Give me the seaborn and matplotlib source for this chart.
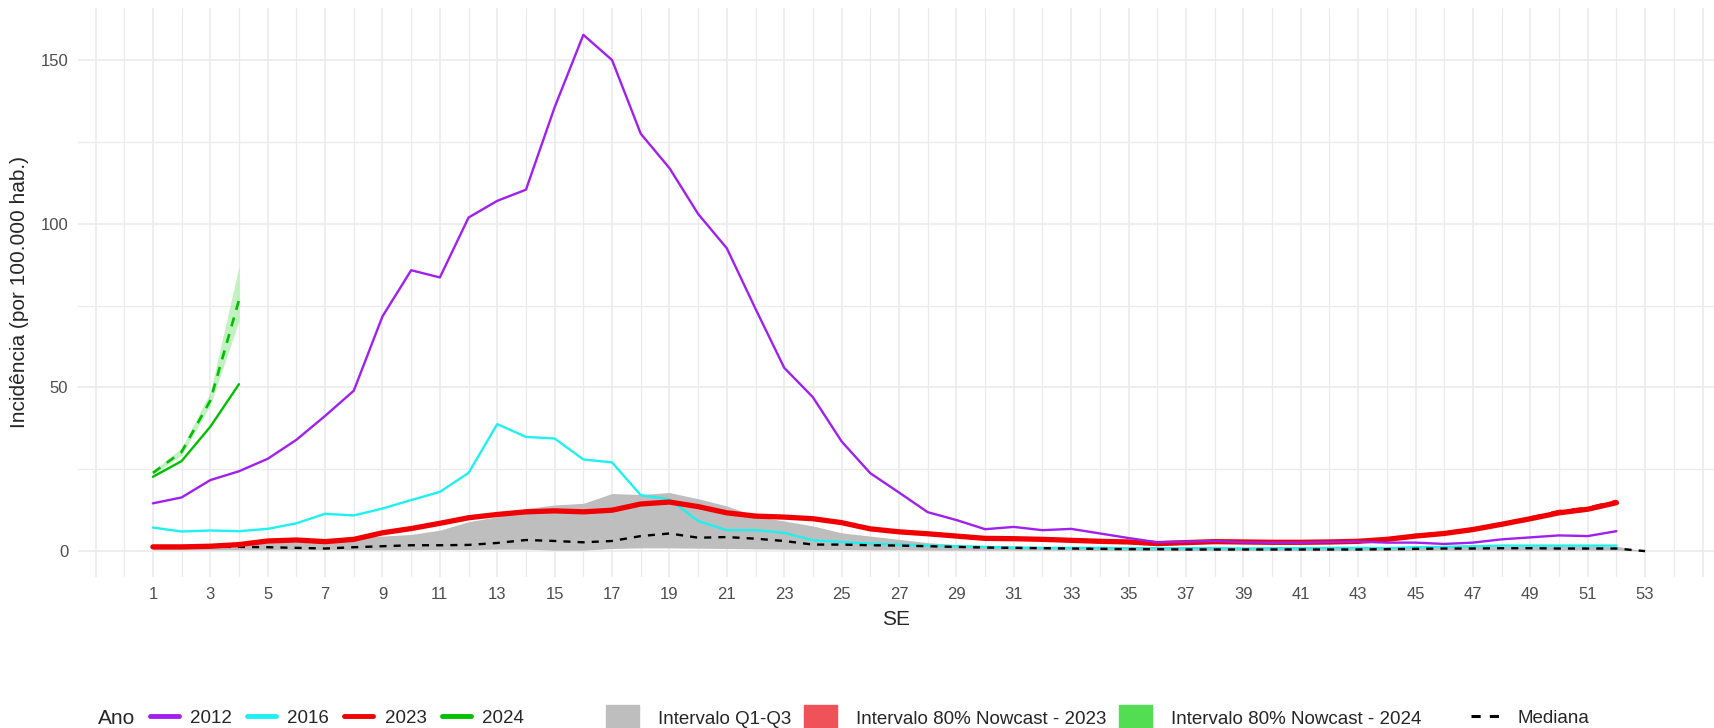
import numpy as np
import pandas as pd
import matplotlib
matplotlib.use('Agg')
import matplotlib.pyplot as plt
from matplotlib.lines import Line2D
from matplotlib.patches import Patch
import seaborn as sns

# semanas epidemiologicas
weeks = list(range(1, 53))
weeks_med = list(range(1, 54))
weeks_2024 = [1, 2, 3, 4]
weeks_now23 = [44, 45, 46, 47, 48, 49, 50, 51, 52]

inc_2012 = [14.6, 16.4, 21.7, 24.4, 28.2, 34.0, 41.3, 49.0, 71.7, 85.8, 83.6, 101.9, 107.0, 110.4,
            135.6, 157.7, 150.0, 127.5, 117.0, 103.0, 92.5, 74.0, 56.0, 47.0, 33.5, 23.8, 17.9,
            11.9, 9.5, 6.7, 7.4, 6.4, 6.8, 5.4, 4.0, 2.7, 2.9, 3.1, 2.7, 2.6, 2.6, 2.8, 2.9, 2.6,
            2.6, 2.2, 2.6, 3.6, 4.2, 4.8, 4.6, 6.1]
inc_2016 = [7.2, 6.0, 6.3, 6.1, 6.8, 8.5, 11.4, 10.9, 13.0, 15.6, 18.1, 23.9, 38.8, 34.9, 34.4,
            28.0, 27.1, 17.1, 15.8, 9.2, 6.4, 6.4, 5.6, 3.3, 2.8, 2.3, 2.0, 1.7, 1.5, 1.3, 1.1,
            1.0, 1.0, 1.0, 0.9, 0.9, 0.9, 0.9, 0.8, 0.9, 0.9, 1.0, 1.0, 0.9, 1.2, 1.3, 1.5, 1.7,
            1.7, 1.7, 1.7, 1.7]
inc_2023 = [1.3, 1.3, 1.5, 2.0, 3.1, 3.4, 2.9, 3.6, 5.6, 6.9, 8.5, 10.2, 11.2, 12.0, 12.3, 12.0,
            12.5, 14.4, 15.0, 13.6, 11.7, 10.7, 10.4, 9.9, 8.7, 6.8, 5.9, 5.3, 4.6, 3.9, 3.8, 3.6,
            3.3, 3.0, 2.8, 2.3, 2.6, 2.9, 2.8, 2.7, 2.7, 2.8, 3.0, 3.6, 4.6, 5.4, 6.6, 8.2, 9.9,
            11.7, 12.8, 14.8]
inc_2024 = [22.7, 27.5, 38.0, 51.0]

now_2024 = [23.9, 30.3, 46.0, 76.7]
now_2024_lo = [23.4, 29.3, 44.5, 70.3]
now_2024_hi = [24.5, 31.5, 48.5, 87.0]

now_2023 = [3.6, 4.8, 5.5, 6.7, 8.3, 10.1, 12.1, 13.1, 15.2]
now_2023_lo = [3.5, 4.5, 5.3, 6.5, 8.1, 9.8, 11.6, 12.6, 14.6]
now_2023_hi = [3.8, 5.0, 5.7, 7.0, 8.5, 10.4, 12.4, 13.4, 15.6]

mediana = [1.3, 1.3, 1.3, 1.3, 1.2, 1.0, 0.8, 1.2, 1.5, 1.8, 1.8, 1.9, 2.5, 3.4, 3.1, 2.7, 3.1,
           4.6, 5.4, 4.1, 4.3, 3.8, 3.1, 2.0, 2.0, 1.8, 1.7, 1.5, 1.3, 1.1, 1.0, 0.9, 0.8, 0.7,
           0.6, 0.6, 0.5, 0.5, 0.5, 0.5, 0.5, 0.5, 0.5, 0.6, 0.7, 0.8, 0.8, 0.9, 0.9, 0.8, 0.8,
           0.8, 0.0]
q1 = [0.4, 0.4, 0.4, 0.4, 0.4, 0.4, 0.4, 0.4, 0.4, 0.4, 0.5, 0.5, 0.6, 0.6, 0.3, 0.3, 0.8, 1.0,
      1.0, 0.9, 0.8, 0.7, 0.6, 0.5, 0.5, 0.4, 0.4, 0.3, 0.3, 0.3, 0.3, 0.3, 0.3, 0.2, 0.2, 0.2,
      0.2, 0.2, 0.2, 0.2, 0.2, 0.2, 0.2, 0.2, 0.2, 0.3, 0.3, 0.3, 0.3, 0.3, 0.3, 0.3, 0.0]
q3 = [1.5, 1.6, 1.8, 2.2, 2.6, 2.9, 3.0, 4.1, 4.6, 5.1, 6.4, 9.0, 10.5, 13.0, 14.1, 14.6, 17.6,
      17.3, 17.9, 16.0, 13.8, 10.7, 9.2, 7.7, 5.6, 4.6, 3.6, 2.6, 2.0, 1.7, 1.5, 1.4, 1.3, 1.2,
      1.1, 1.1, 1.0, 1.0, 1.0, 1.0, 1.0, 1.0, 1.1, 1.2, 1.3, 1.4, 1.5, 1.5, 1.6, 1.6, 1.6, 1.5,
      0.0]

cores = {'2012': '#A020F0', '2016': '#1FF0F0', '2023': '#F00000', '2024': '#00C000'}

sns.set_theme(style='white')
plt.rcParams['font.family'] = ['Liberation Sans', 'DejaVu Sans']

fig = plt.figure(figsize=(17.14, 7.28), dpi=100)
ax = fig.add_axes([78 / 1714, 151 / 728, 1636 / 1714, 569 / 728])

# bandas
ax.fill_between(weeks_med, q1, q3, color='#BEBEBE', lw=0, zorder=1)
ax.fill_between(weeks_now23, now_2023_lo, now_2023_hi, color='#F0525A', alpha=0.35, lw=0, zorder=2)
ax.fill_between(weeks_2024, now_2024_lo, now_2024_hi, color='#52D852', alpha=0.35, lw=0, zorder=2)

sns.lineplot(x=weeks, y=inc_2016, color=cores['2016'], linewidth=1.7, ax=ax, zorder=3)
sns.lineplot(x=weeks_med, y=mediana, color='black', linewidth=1.7, ax=ax, zorder=4,
             linestyle=(0, (3, 3)))
sns.lineplot(x=weeks, y=inc_2023, color=cores['2023'], linewidth=3.8, ax=ax, zorder=5)
sns.lineplot(x=weeks_now23, y=now_2023, color=cores['2023'], linewidth=2.5, ax=ax, zorder=5,
             linestyle=(0, (3, 3)))
sns.lineplot(x=weeks, y=inc_2012, color=cores['2012'], linewidth=1.7, ax=ax, zorder=6)
sns.lineplot(x=weeks_2024, y=inc_2024, color=cores['2024'], linewidth=1.7, ax=ax, zorder=7)
sns.lineplot(x=weeks_2024, y=now_2024, color=cores['2024'], linewidth=1.9, ax=ax, zorder=7,
             linestyle=(0, (3.5, 3)))

ax.set_xlim(-1.61, 55.4)
ax.set_ylim(-7.9, 165.9)
ax.set_xticks(range(-1, 56, 2))
ax.set_xticklabels(['' if (t < 1 or t > 53) else str(t) for t in range(-1, 56, 2)])
ax.set_xticks(range(0, 56, 2), minor=True)
ax.set_yticks([0, 50, 100, 150])
ax.set_yticks([25, 75, 125], minor=True)
ax.grid(which='major', color='#EBEBEB', linewidth=1.2)
ax.grid(which='minor', color='#EBEBEB', linewidth=0.9)
ax.tick_params(which='both', length=0, labelsize=12, labelcolor='#4D4D4D', pad=7)
for s in ax.spines.values():
    s.set_visible(False)

ax.set_xlabel('SE', fontsize=15)
ax.set_ylabel('Incidência (por 100.000 hab.)', fontsize=15)
ax.xaxis.set_label_coords(0.5, -0.058)
ax.yaxis.set_label_coords(-0.03, 0.5)

# legendas
yl = 1 - 718 / 728
fig.text(98 / 1714, yl, 'Ano', fontsize=15, va='center', ha='left')
h1 = [Line2D([], [], color=cores[k], lw=3.5) for k in cores]
l1 = fig.legend(h1, list(cores.keys()), loc='center left', bbox_to_anchor=(150 / 1714, yl),
                frameon=False, ncol=4, fontsize=13.5, handlelength=1.55, handletextpad=0.6,
                columnspacing=0.8, borderpad=0, borderaxespad=0)
h2 = [Patch(color='#BEBEBE'), Patch(color='#F0525A'), Patch(color='#52DD52')]
l2 = fig.legend(h2, ['Intervalo Q1-Q3', 'Intervalo 80% Nowcast - 2023', 'Intervalo 80% Nowcast - 2024'],
                loc='center left', bbox_to_anchor=(606 / 1714, yl), frameon=False, ncol=3,
                fontsize=13.5, handlelength=1.75, handleheight=1.8, handletextpad=1.0,
                columnspacing=0.7, borderpad=0, borderaxespad=0)
h3 = [Line2D([], [], color='black', lw=2.2, linestyle=(0, (3, 3)))]
l3 = fig.legend(h3, ['Mediana'], loc='center left', bbox_to_anchor=(1471 / 1714, yl),
                frameon=False, fontsize=13.5, handlelength=1.5, handletextpad=1.0,
                borderpad=0, borderaxespad=0)

fig.savefig('out.png', dpi=100)
